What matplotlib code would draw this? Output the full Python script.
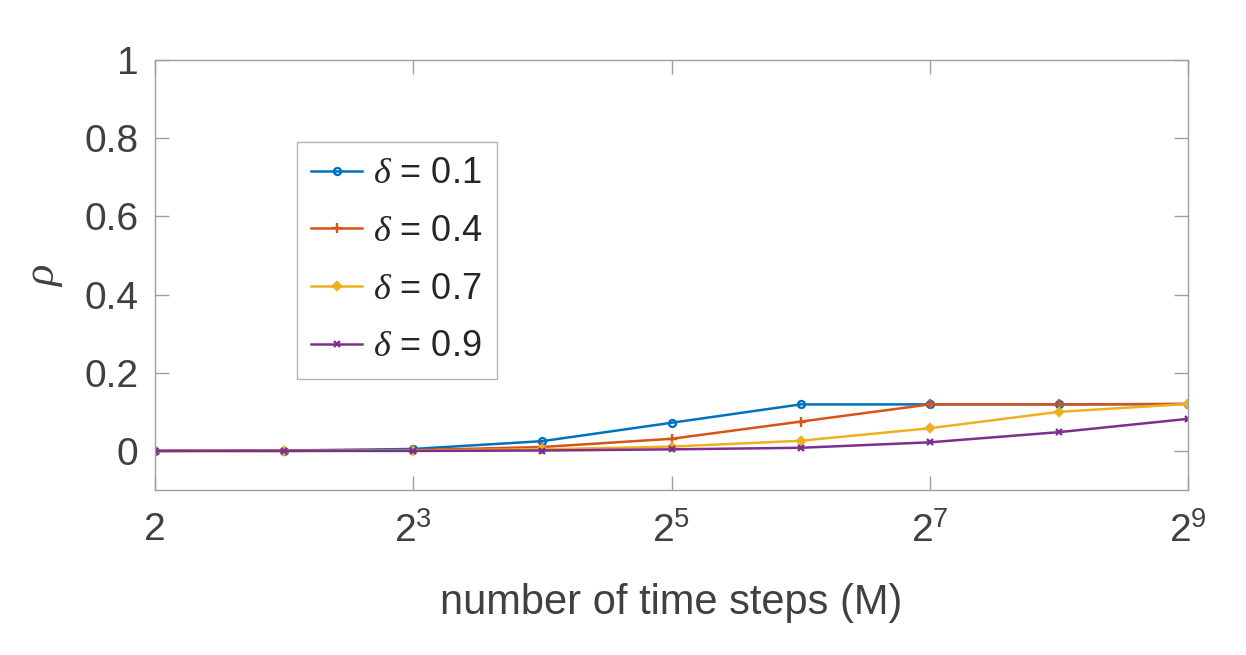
import numpy as np
import matplotlib
matplotlib.use("Agg")
import matplotlib.pyplot as plt

# time steps M and rho values for each delta
M = [2, 4, 8, 16, 32, 64, 128, 256, 512]
rho_01 = [0.0, 0.001, 0.005, 0.025, 0.072, 0.119, 0.119, 0.119, 0.120]
rho_04 = [0.0, 0.0, 0.002, 0.010, 0.031, 0.075, 0.119, 0.119, 0.120]
rho_07 = [0.0, 0.0, 0.001, 0.004, 0.011, 0.026, 0.058, 0.100, 0.120]
rho_09 = [0.0, 0.0, 0.0, 0.001, 0.004, 0.008, 0.022, 0.048, 0.082]
labels = [r"$\delta$ = 0.1", r"$\delta$ = 0.4", r"$\delta$ = 0.7", r"$\delta$ = 0.9"]
xticks = [2, 8, 32, 128, 512]
xticklabels = ["2", r"$\mathregular{2^3}$", r"$\mathregular{2^5}$", r"$\mathregular{2^7}$", r"$\mathregular{2^9}$"]
yticks = [0, 0.2, 0.4, 0.6, 0.8, 1]
yticklabels = ["0", "0.2", "0.4", "0.6", "0.8", "1"]

plt.rcParams['font.family'] = ['Liberation Sans', 'DejaVu Sans']
plt.rcParams['mathtext.fontset'] = 'custom'
plt.rcParams['mathtext.rm'] = 'Liberation Sans'
plt.rcParams['mathtext.it'] = 'Liberation Serif:italic'
txt = '#404040'
axc = '#a0a0a0'

fig = plt.figure(figsize=(12.46, 6.55), dpi=100)
ax = fig.add_axes([0.1244, 0.2519, 0.8291, 0.6565])

colors = ['#0072BD', '#D95319', '#EDB120', '#7E2F8E']
markers = ['o', '+', 'D', 'x']
sizes = [5, 7, 4, 4]
series = [rho_01, rho_04, rho_07, rho_09]
for y, c, m, s, lab in zip(series, colors, markers, sizes, labels):
    ax.plot(M, y, color=c, marker=m, markersize=s, markerfacecolor='none' if m == 'o' else c,
            markeredgewidth=1.7, linewidth=1.8, label=lab)

ax.set_xscale('log', base=2)
ax.set_xlim(2, 512)
ax.set_ylim(-0.1, 1)
ax.set_xticks(xticks)
ax.set_xticklabels(xticklabels)
ax.set_yticks(yticks)
ax.set_yticklabels(yticklabels)
ax.minorticks_off()
ax.tick_params(direction='in', length=10, width=1, colors=axc, labelcolor=txt,
               labelsize=28, top=True, right=True)
ax.tick_params(axis='x', pad=16)
ax.tick_params(axis='y', pad=12)
for sp in ax.spines.values():
    sp.set_color(axc)
    sp.set_linewidth(1)

ax.set_xlabel("number of time steps (M)", fontsize=30, color=txt, labelpad=24)
ax.set_ylabel(r"$\rho$", fontsize=32, color=txt, labelpad=14)

leg = ax.legend(loc='upper left', bbox_to_anchor=(0.1375, 0.81), fontsize=26,
                frameon=True, fancybox=False, edgecolor=axc, handlelength=1.4,
                labelspacing=0.63, borderpad=0.4, handletextpad=0.3, borderaxespad=0)
leg.get_frame().set_linewidth(1)
for t in leg.get_texts():
    t.set_color('#262626')

fig.savefig("out.png", dpi=100)
